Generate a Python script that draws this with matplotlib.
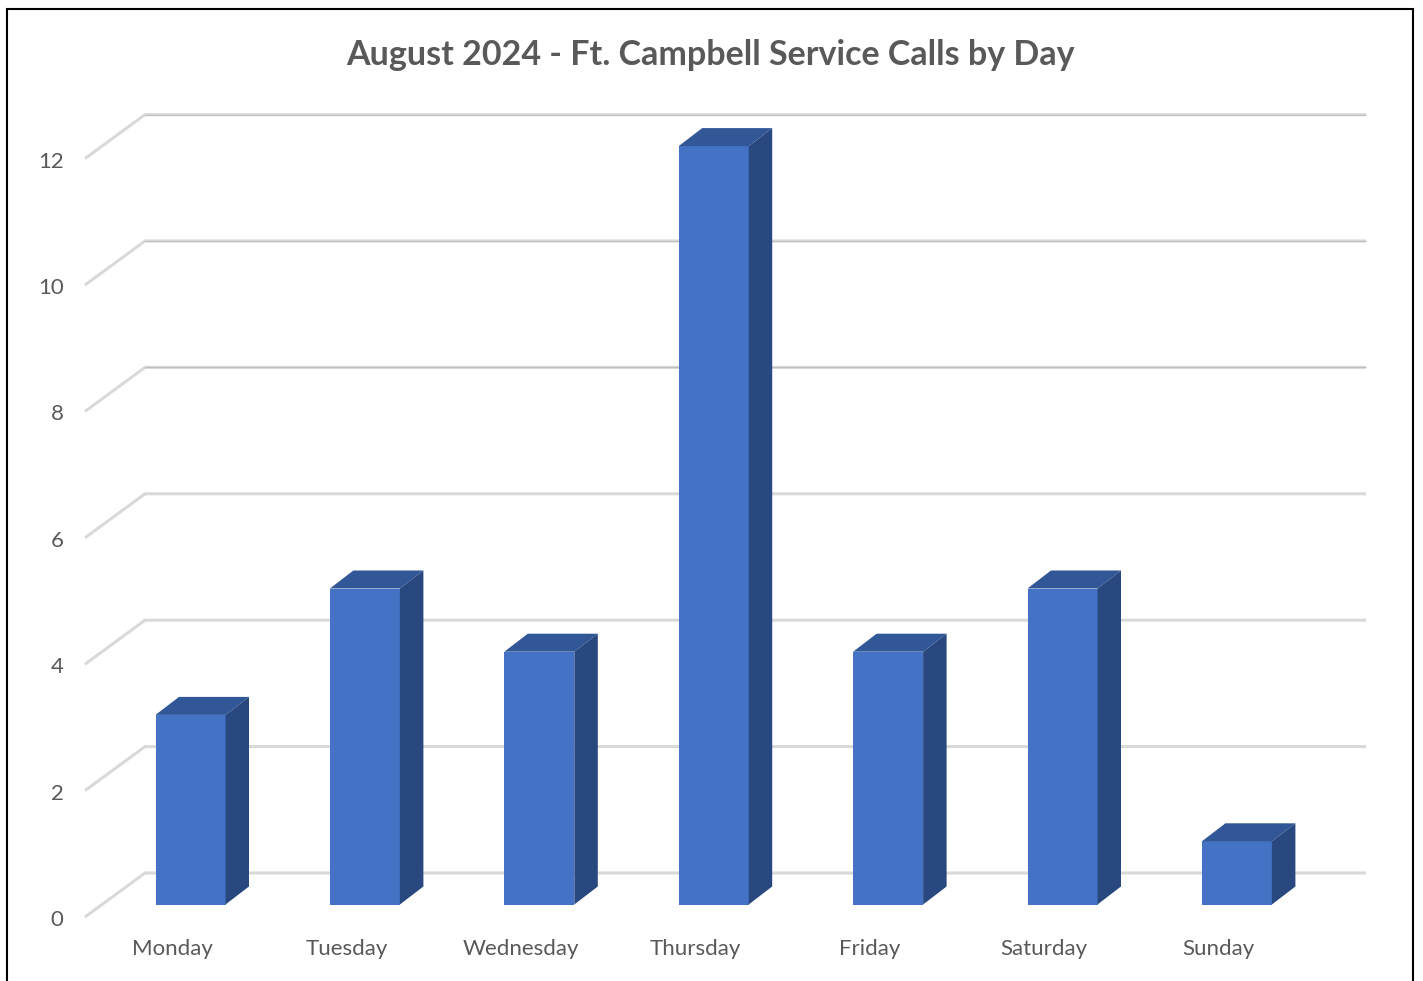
import matplotlib
matplotlib.use("Agg")
import matplotlib.pyplot as plt
from matplotlib.lines import Line2D
from matplotlib.transforms import ScaledTranslation

days = ["Monday", "Tuesday", "Wednesday", "Thursday", "Friday", "Saturday", "Sunday"]
calls = [3, 5, 4, 12, 4, 5, 1]
y_ticks = [0, 2, 4, 6, 8, 10, 12]
title = "August 2024 - Ft. Campbell Service Calls by Day"

W, H = 1423, 981
plt.rcParams["font.family"] = ["Lato", "DejaVu Sans"]

fig = plt.figure(figsize=(W / 100, H / 100), dpi=100)
fig.patch.set_facecolor("white")

# axes run from the front edge of the floor to the end of the back wall
left, right, bottom, top = 85, 1366, 917, 115
ax = fig.add_axes([left / W, 1 - bottom / H, (right - left) / W, (bottom - top) / H])
px_x = 174.4   # pixels per category
px_y = 63.2    # pixels per value unit
ax.set_xlim((left - 173) / px_x, (right - 173) / px_x)
ax.set_ylim(0, (bottom - top) / px_y)

# depth of the 3D look, in data units
wall_dx = 60 / px_x
wall_dy = 44 / px_y
base_dy = 12.5 / px_y
bar_shift = 17.5 / px_x
bar_w = 70 / px_x
depth_x = 23.5 / px_x
depth_y = 18 / px_y

x0 = ax.get_xlim()[0]
x1 = ax.get_xlim()[1]
for g in y_ticks:
    ax.plot([x0, x0 + wall_dx, x1], [g, g + wall_dy, g + wall_dy], color="#d9d9d9",
            lw=2.2, solid_joinstyle="miter", solid_capstyle="butt", zorder=1, clip_on=False)
    # upper lines look darker in the original
    if g >= 8:
        ax.plot([x0 + wall_dx, x1], [g + wall_dy, g + wall_dy], color="#bfbfbf",
                lw=0.8, solid_capstyle="butt", zorder=2, clip_on=False)

for i, v in enumerate(calls):
    xl = i + bar_shift - bar_w / 2
    xr = xl + bar_w
    yb = base_dy
    yt = base_dy + v
    ax.bar(i + bar_shift, v, bar_w, bottom=yb, color="#4472c4", zorder=3)
    # top face
    ax.fill([xl, xr, xr + depth_x, xl + depth_x], [yt, yt, yt + depth_y, yt + depth_y],
            color="#325797", lw=0, zorder=3, clip_on=False)
    # side face
    ax.fill([xr, xr + depth_x, xr + depth_x, xr], [yb, yb + depth_y, yt + depth_y, yt],
            color="#2a4880", lw=0, zorder=3, clip_on=False)

ax.set_xticks(range(len(days)))
ax.set_xticklabels(days)
ax.set_yticks(y_ticks)
ax.tick_params(axis="both", length=0, labelsize=16, labelcolor="#595959")
ax.tick_params(axis="x", pad=16)
ax.tick_params(axis="y", pad=15.5)
nudge = ScaledTranslation(0, -1 / 100, fig.dpi_scale_trans)
for label in ax.get_yticklabels():
    label.set_transform(label.get_transform() + nudge)
nudge_x = ScaledTranslation(-1 / 100, 0, fig.dpi_scale_trans)
for label in ax.get_xticklabels():
    label.set_transform(label.get_transform() + nudge_x)
for s in ax.spines.values():
    s.set_visible(False)
ax.patch.set_visible(False)

fig.text(710 / W, 1 - 55 / H, title, ha="center", va="center", fontsize=24.5,
         fontweight="bold", color="#595959")

# black frame, open at the bottom
frame_x = [7 / W, 7 / W, 1413 / W, 1413 / W]
frame_y = [0, 1 - 9 / H, 1 - 9 / H, 0]
fig.add_artist(Line2D(frame_x, frame_y, color="black", lw=1.5, solid_joinstyle="miter"))

fig.savefig("out.png", dpi=100)
